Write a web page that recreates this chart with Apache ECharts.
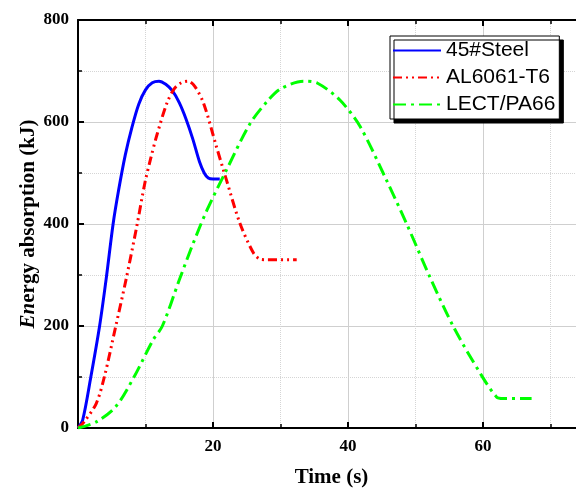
<!DOCTYPE html>
<html>
<head>
<meta charset="utf-8">
<script src="https://cdn.jsdelivr.net/npm/echarts@6/dist/echarts.min.js"></script>
<style>html,body{margin:0;padding:0;background:#fff;}#c{width:576px;height:488px;}</style>
</head>
<body>
<div id="c"></div>
<script>
var seriesNames = ['45#Steel', 'AL6061-T6', 'LECT/PA66'];
var steel = [[0,0],[0.7,16],[1.9,100],[3.2,200],[4.2,295],[5.2,400],[6,465],[7,535],[8,590],[9,635],[10,663],[11,677],[12,680],[13,674],[14,661],[15,638],[16,606],[17,567],[18,522],[18.7,500],[19.3,490],[20,488],[21,488]];
var al6061 = [[0,0],[0.9,12],[2.7,48],[3.9,100],[5.6,200],[7.1,290],[8.7,395],[9.9,480],[10.8,530],[11.7,575],[13.2,638],[14.3,666],[15.3,677],[16.3,680],[17.3,670],[18.6,637],[20.5,552],[22,486],[24,401],[26,343],[27,331],[28,330],[32.4,330]];
var lect = [[0,0],[2.7,12],[5.6,42],[8.3,100],[11.1,172],[12.5,200],[15,290],[17,360],[19.1,427],[22,506],[25.5,597],[28,640],[30,665],[33.4,680],[35.5,676],[38.8,643],[41.8,591],[45.7,486],[48.7,400],[52.1,297],[55.6,199],[59.6,107],[62,61],[63,58],[67.2,58]];
var xTicks = [0, 20, 40, 60, 80];
var yTicks = [0, 200, 400, 600, 800];

var chart = echarts.init(document.getElementById('c'), null, {renderer: 'canvas'});
var serif = '"Liberation Serif","Times New Roman",serif';
var axisCommon = {
  axisLine: {show: true, onZero: false, lineStyle: {color: '#000', width: 2}},
  axisTick: {show: true, inside: true, length: 6, lineStyle: {color: '#000', width: 2}},
  minorTick: {show: true, splitNumber: 2, length: 4, lineStyle: {color: '#000', width: 1.5}},
  axisLabel: {color: '#000', fontFamily: serif, fontWeight: 'bold', fontSize: 17},
  nameTextStyle: {color: '#000', fontFamily: serif, fontWeight: 'bold', fontSize: 21},
  nameMoveOverlap: false
};
function merge(a, b) { return Object.assign({}, a, b); }
chart.setOption({
  backgroundColor: '#fff',
  animation: false,
  grid: {left: 78, top: 20, width: 540, height: 408, outerBoundsMode: 'none', containLabel: false},
  legend: {
    orient: 'vertical', left: 390, top: 36,
    data: seriesNames,
    itemWidth: 48, itemHeight: 14, itemGap: 6,
    padding: [4, 4, 4, 2],
    backgroundColor: '#fff', borderColor: '#000', borderWidth: 1,
    shadowColor: '#000', shadowOffsetX: 4, shadowOffsetY: 4, shadowBlur: 0,
    itemStyle: {opacity: 0},
    textStyle: {color: '#000', fontFamily: '"Liberation Sans",Arial,sans-serif', fontSize: 21, lineHeight: 21}
  },
  xAxis: [
    merge(axisCommon, {
      type: 'value', min: xTicks[0], max: xTicks[xTicks.length - 1], interval: 20,
      name: 'Time (s)', nameLocation: 'middle', nameGap: 39,
      nameTextStyle: merge(axisCommon.nameTextStyle, {padding: [0, 33, 0, 0]}),
      axisLabel: merge(axisCommon.axisLabel, {margin: 10, formatter: function (v) { return v === 0 ? '' : v; }}),
      splitLine: {show: true, lineStyle: {color: '#cfcfcf', width: 1}},
      minorSplitLine: {show: true, lineStyle: {color: '#d5d5d5', width: 1, type: 'dotted'}}
    }),
    merge(axisCommon, {
      type: 'value', position: 'top', min: xTicks[0], max: xTicks[xTicks.length - 1], interval: 20,
      axisLabel: {show: false}, splitLine: {show: false}
    })
  ],
  yAxis: [
    merge(axisCommon, {
      type: 'value', min: yTicks[0], max: yTicks[yTicks.length - 1], interval: 200,
      name: '{i|En}ergy absorption (kJ)', nameLocation: 'middle', nameGap: 39,
      nameTextStyle: merge(axisCommon.nameTextStyle, {rich: {i: {fontStyle: 'italic', fontWeight: 'bold', fontFamily: serif, fontSize: 21, color: '#000'}}}),
      axisLabel: merge(axisCommon.axisLabel, {margin: 9}),
      splitLine: {show: true, lineStyle: {color: '#cfcfcf', width: 1}},
      minorSplitLine: {show: true, lineStyle: {color: '#d5d5d5', width: 1, type: 'dotted'}}
    }),
    merge(axisCommon, {
      type: 'value', position: 'right', min: yTicks[0], max: yTicks[yTicks.length - 1], interval: 200,
      axisLabel: {show: false}, splitLine: {show: false}
    })
  ],
  series: [
    {name: seriesNames[0], type: 'line', data: steel, smooth: 0.3, symbol: 'none',
     lineStyle: {color: '#0000ff', width: 3, type: 'solid'}, itemStyle: {color: '#0000ff'}},
    {name: seriesNames[1], type: 'line', data: al6061, smooth: 0.3, symbol: 'none',
     lineStyle: {color: '#ff0000', width: 3, type: [9, 4, 2, 4, 2, 4]}, itemStyle: {color: '#ff0000'}},
    {name: seriesNames[2], type: 'line', data: lect, smooth: 0.3, symbol: 'none',
     lineStyle: {color: '#00ff00', width: 3, type: [13, 5, 3, 5]}, itemStyle: {color: '#00ff00'}}
  ]
});
</script>
</body>
</html>
